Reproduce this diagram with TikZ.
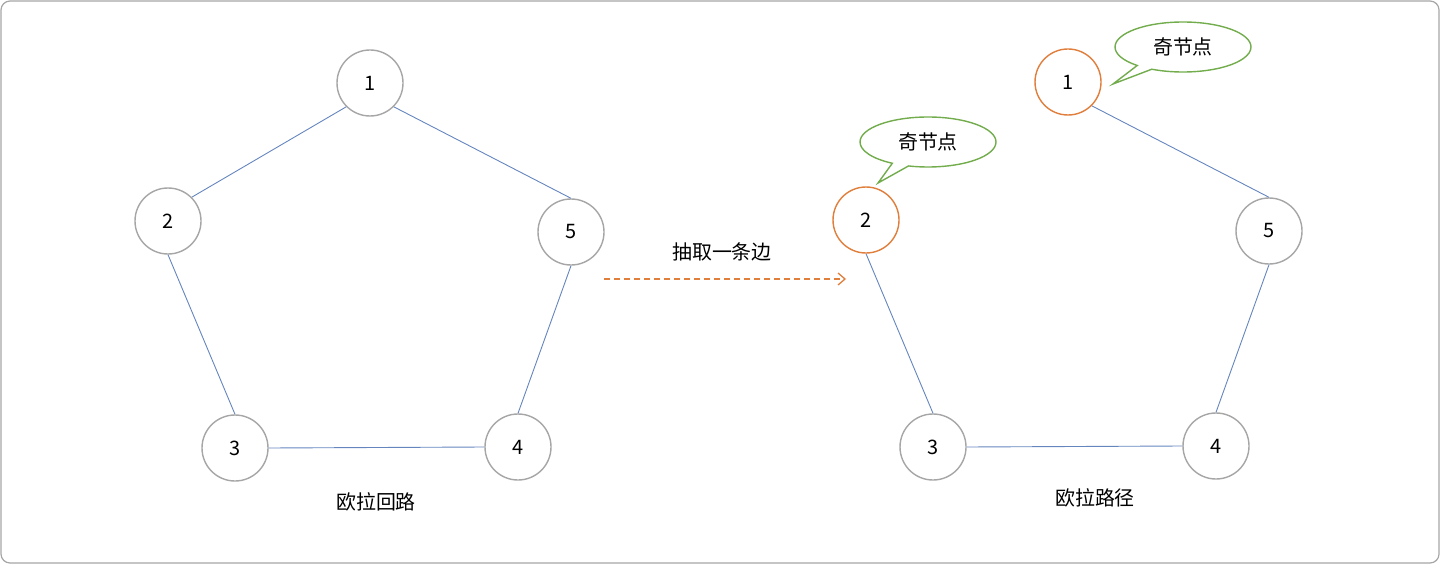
\documentclass[tikz,border=0pt]{standalone}
\usepackage{fontspec}
\setmainfont{Noto Sans CJK SC}
\usetikzlibrary{shapes.callouts,shapes.geometric,arrows.meta}
\definecolor{vgray}{HTML}{A6A6A6}
\definecolor{eblue}{HTML}{6585BE}
\definecolor{vorange}{HTML}{E07E3C}
\definecolor{cgreen}{HTML}{72AC4D}
\tikzset{
  vtx/.style={circle, draw=vgray, line width=1.4bp, minimum size=66bp, inner sep=0pt, font=\fontsize{20}{22}\selectfont},
  odd/.style={vtx, draw=vorange},
  edge/.style={draw=eblue, line width=0.9bp},
  bubble/.style={ellipse callout, draw=cgreen, line width=1.4bp, minimum width=136bp, minimum height=50bp, inner sep=0pt, font=\fontsize{20}{24}\selectfont},
  lbl/.style={font=\fontsize{20}{24}\selectfont, inner sep=0pt},
}
\begin{document}
\begin{tikzpicture}[x=1bp,y=-1bp]
\useasboundingbox (0,0) rectangle (1440,564);
\draw[vgray, line width=1.2bp, rounded corners=9bp] (1,1) rectangle (1439,563);
% left graph
\node[vtx] (a1) at (370,83) {1};
\node[vtx] (a2) at (168,221) {2};
\node[vtx] (a5) at (571,232) {5};
\node[vtx] (a3) at (235,448) {3};
\node[vtx] (a4) at (518,447) {4};
\draw[edge] (a1.south west) -- (a2.north east);
\draw[edge] (a1.south east) -- (a5.north);
\draw[edge] (a2.south) -- (a3.north);
\draw[edge] (a3.east) -- (a4.west);
\draw[edge] (a4.north) -- (a5.south);
\node[lbl] (t1) at (376,502) {欧拉回路};
% arrow
\coordinate (arS) at (604,279);
\coordinate (arE) at (846,279);
\draw[vorange, line width=1.3bp, dash pattern=on 6bp off 4bp, -{Straight Barb[length=7bp,width=12bp]}] (arS) -- (arE);
\node[lbl] (t2) at (722,252) {抽取一条边};
% right graph
\node[odd] (b1) at (1068,82) {1};
\node[odd] (b2) at (866,220) {2};
\node[vtx] (b5) at (1269,231) {5};
\node[vtx] (b3) at (933,447) {3};
\node[vtx] (b4) at (1216,446) {4};
\draw[edge] (b1.south east) -- (b5.north);
\draw[edge] (b2.south) -- (b3.north);
\draw[edge] (b3.east) -- (b4.west);
\draw[edge] (b4.north) -- (b5.south);
\node[bubble, callout absolute pointer={(1113,84)}] (c1) at (1183,47) {奇节点};
\node[bubble, callout absolute pointer={(878,183)}] (c2) at (928,142) {奇节点};
\node[lbl] (t3) at (1095,498) {欧拉路径};
\end{tikzpicture}
\end{document}
